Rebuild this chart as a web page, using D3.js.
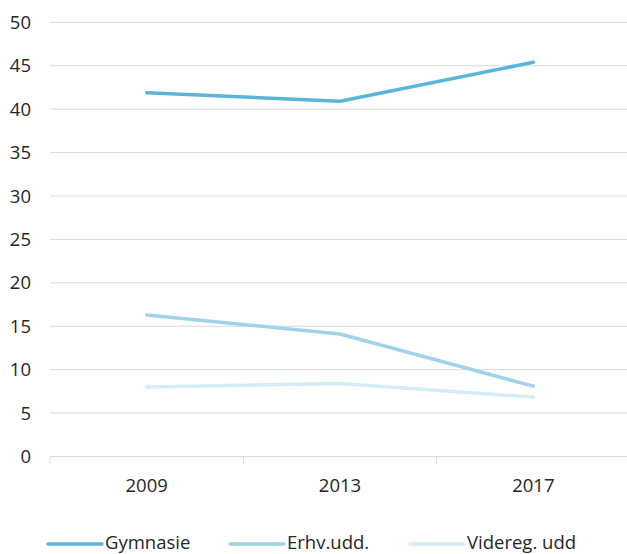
<!DOCTYPE html>
<html><head><meta charset="utf-8">
<script src="https://cdn.jsdelivr.net/npm/d3@7/dist/d3.min.js"></script>
<style>body{margin:0;background:#fff}svg{display:block}text{font-family:"Open Sans","Noto Sans",sans-serif;fill:#262626}</style>
</head><body><svg id="c" width="627" height="554"></svg>
<script>
const categories = ["2009","2013","2017"];
const seriesNames = ["Gymnasie","Erhv.udd.","Videreg. udd"];
const gymnasie = [41.9, 40.9, 45.4];
const erhv = [16.3, 14.1, 8.1];
const videreg = [8.0, 8.4, 6.85];
const yTicks = [0,5,10,15,20,25,30,35,40,45,50];
const colors = ["#5bb5da","#9fd3e8","#d3ecf5"];

const svg = d3.select("#c");
const x = d3.scaleBand().domain(categories).range([50, 630]);
const y = d3.scaleLinear().domain([0, 50]).range([456.5, 22.3]);

svg.append("g").selectAll("line").data(yTicks.filter(d=>d>0)).join("line")
  .attr("x1", 50).attr("x2", 627).attr("y1", d=>y(d)).attr("y2", d=>y(d))
  .attr("stroke", "#d9d9d9").attr("stroke-width", 1);

svg.append("g").selectAll("text").data(yTicks).join("text")
  .attr("x", 31).attr("y", d=>y(d)).attr("dy", "0.36em").attr("text-anchor","end")
  .attr("font-size", 18.5).text(d=>d);

svg.append("line").attr("x1",50).attr("x2",630).attr("y1",y(0)).attr("y2",y(0)).attr("stroke","#d9d9d9");
const bounds = [...categories.map(c=>x(c)), x.range()[1]];
svg.append("g").selectAll("line").data(bounds).join("line")
  .attr("x1", d=>d).attr("x2", d=>d).attr("y1", y(0)).attr("y2", y(0)+8)
  .attr("stroke", "#d9d9d9");
svg.append("g").selectAll("text").data(categories).join("text")
  .attr("x", d=>x(d)+x.bandwidth()/2).attr("y", 485).attr("dy","0.36em")
  .attr("text-anchor","middle").attr("font-size", 18.5).text(d=>d);

const data = [gymnasie, erhv, videreg];
const line = d3.line().x((d,i)=>x(categories[i])+x.bandwidth()/2).y(d=>y(d));
[2,1,0].forEach(k=>{
  svg.append("path").datum(data[k]).attr("d", line).attr("fill","none")
    .attr("stroke", colors[k]).attr("stroke-width", 3.5)
    .attr("stroke-linecap","round").attr("stroke-linejoin","round");
});

const legX = [48, 230, 410];
seriesNames.forEach((n,i)=>{
  svg.append("line").attr("x1", legX[i]).attr("x2", legX[i]+54).attr("y1", 544).attr("y2", 544)
    .attr("stroke", colors[i]).attr("stroke-width", 3.5).attr("stroke-linecap","round");
  svg.append("text").attr("x", legX[i]+57).attr("y", 549)
    .attr("font-size", 18.5).text(n);
});
</script></body></html>
